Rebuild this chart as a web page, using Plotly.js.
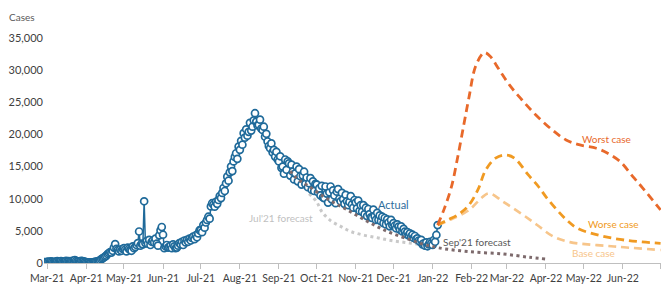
<!DOCTYPE html>
<html>
<head>
<meta charset="utf-8">
<script src="https://cdn.plot.ly/plotly-3.0.1.min.js"></script>
<style>html,body{margin:0;padding:0;background:#fff;}#chart{width:662px;height:290px;}</style>
</head>
<body>
<div id="chart"></div>
<script>
// Actual daily cases, starting 2021-02-27 (one value per day)
const actualStart = '2021-02-27';
const actualValues = [
  150,120,
  180,220,150,260,200,130,110,240,280,190,230,300,170,140,260,320,250,290,230,300,310,380,470,350,260,240,200,330,280,250,190,
  150,120,90,60,100,80,130,170,210,260,330,400,600,720,850,1000,1150,1400,1550,1700,1600,1900,2400,2950,2200,2000,1800,2100,1900,2200,
  2300,2100,1800,2400,2200,2000,1900,2600,2300,2500,2800,3100,4900,2700,3000,2900,9600,3100,3400,3000,3600,2800,3300,3500,3200,3800,3000,2700,4300,5100,5600,
  4400,2300,2600,2800,2400,2500,2700,2300,2900,2600,2300,2400,2700,3100,2900,3300,2800,3500,3200,3600,3300,3800,3500,3900,4100,3700,4300,4000,4600,5100,
  5100,4800,5900,5500,6300,6700,7200,6900,8800,9300,9100,8760,9500,9200,9800,10400,10100,10900,11670,11200,12400,13430,12800,14100,15000,14300,15800,16500,17070,16200,18100,
  17600,19000,18400,20200,19500,20800,19800,20400,21800,20600,21200,22200,23300,22000,21400,21500,22300,20900,20700,21200,19650,20100,18900,18200,17850,18600,17200,17600,16550,17300,16100,
  15800,16600,14800,15000,13900,16100,14500,15800,15500,13600,15300,14200,13000,13950,15000,12700,14600,13500,12200,13600,14200,12300,13300,11800,12400,13200,11400,12700,11200,12300,
  12200,11000,11600,10500,12000,10200,10100,11900,10800,9400,11000,11900,9900,11300,10500,9300,11100,11500,10000,9600,10900,9900,9200,10600,9600,9000,9500,10400,9100,8600,9800,
  9400,8500,9700,8100,9000,8000,9000,7600,8600,7300,8400,7600,7100,7000,8300,7300,6700,7800,6700,7400,6500,7200,6200,7000,6000,6800,6300,5700,6700,5900,
  6200,5800,5400,6000,5650,5200,5700,4900,5300,4870,4500,4800,4300,4600,4090,4400,3900,4200,3700,3840,3500,3300,3600,2900,3060,2700,3200,2600,2900,3300,3060,
  2800,3580,3300,4360,5900
];

// Jul'21 forecast
const julDates = ['2021-09-25','2021-10-01','2021-10-05','2021-10-12','2021-10-20','2021-10-28','2021-11-08','2021-11-19','2021-11-29','2021-12-10','2021-12-21','2021-12-31'];
const julValues = [10800,9500,8000,6600,5700,4900,4300,3900,3500,3200,2900,2600];

// Sep'21 forecast
const sepDates = ['2021-09-10','2021-09-15','2021-09-25','2021-10-10','2021-10-25','2021-11-10','2021-11-25','2021-12-10','2021-12-25','2022-01-06','2022-01-30','2022-02-26','2022-03-19','2022-04-01'];
const sepValues = [14300,13200,11900,9900,8300,6500,5000,3900,2900,2350,1760,1400,880,620];

// Scenarios
const worstDates = ['2022-01-05','2022-01-10','2022-01-16','2022-01-21','2022-01-26','2022-01-30','2022-02-04','2022-02-10','2022-02-12','2022-02-16','2022-02-23','2022-03-03','2022-03-13','2022-03-24','2022-04-06','2022-04-17','2022-04-28','2022-05-11','2022-05-20','2022-05-30','2022-06-09','2022-06-17','2022-07-01'];
const worstValues = [5900,8300,11870,16540,21740,25880,30540,32620,32720,32100,30030,27700,25360,23030,20700,19140,18360,17850,17070,15760,13430,11620,8250];

const worseDates = ['2022-01-05','2022-01-13','2022-01-21','2022-01-29','2022-02-06','2022-02-12','2022-02-20','2022-02-28','2022-03-07','2022-03-18','2022-03-26','2022-04-01','2022-04-10','2022-04-18','2022-04-26','2022-05-12','2022-06-02','2022-07-01'];
const worseValues = [5900,6700,7500,8800,11400,14400,16300,16800,16300,13700,11900,10300,8200,6600,5400,4360,3580,3060];

const baseDates = ['2022-01-05','2022-01-17','2022-01-30','2022-02-10','2022-02-15','2022-02-26','2022-03-12','2022-03-25','2022-04-07','2022-04-20','2022-05-04','2022-05-20','2022-06-02','2022-07-01'];
const baseValues = [5900,6900,8250,10320,10840,9540,7730,5910,4100,3250,2900,2650,2440,2020];

// Axis ticks
const monthTicks = ['2021-03-01','2021-04-01','2021-05-01','2021-06-01','2021-07-01','2021-08-01','2021-09-01','2021-10-01','2021-11-01','2021-12-01','2022-01-01','2022-02-01','2022-03-01','2022-04-01','2022-05-01','2022-06-01','2022-07-01'];
const monthLabels = ['Mar-21','Apr-21','May-21','Jun-21','Jul-21','Aug-21','Sep-21','Oct-21','Nov-21','Dec-21','Jan-22','Feb-22','Mar-22','Apr-22','May-22','Jun-22',''];
const yTicks = [0,5000,10000,15000,20000,25000,30000,35000];

// build daily dates for the actual series
const actualDates = [];
{
  const d0 = new Date(actualStart + 'T00:00:00Z');
  for (let i = 0; i < actualValues.length; i++) {
    const d = new Date(d0.getTime() + i * 86400000);
    actualDates.push(d.toISOString().slice(0, 10));
  }
}

const FONT = 'Lato, "Open Sans", sans-serif';
const C = {
  actual: '#1f6a9a', jul: '#c9c9c9', sep: '#7d6a6c',
  worst: '#e8692a', worse: '#f09a22', base: '#f7c58a'
};

const traces = [
  { x: julDates, y: julValues, mode: 'lines', line: { color: C.jul, width: 3, dash: '3px,3.5px', shape: 'spline' } },
  { x: actualDates, y: actualValues, mode: 'lines+markers',
    line: { color: C.actual, width: 1.5 },
    marker: { symbol: 'circle', size: 7, color: '#ffffff', line: { color: C.actual, width: 1.7 } } },
  { x: sepDates, y: sepValues, mode: 'lines', line: { color: C.sep, width: 3, dash: '3px,3.5px', shape: 'spline' } },
  { x: baseDates, y: baseValues, mode: 'lines', line: { color: C.base, width: 2.6, dash: '8px,5px', shape: 'spline' } },
  { x: worseDates, y: worseValues, mode: 'lines', line: { color: C.worse, width: 2.8, dash: '8px,5px', shape: 'spline' } },
  { x: worstDates, y: worstValues, mode: 'lines', line: { color: C.worst, width: 2.8, dash: '8px,5px', shape: 'spline' } }
];

const ann = (text, x, y, color, size) => ({
  text, x, y, xref: 'x', yref: 'y', showarrow: false,
  font: { family: FONT, size: size || 10, color }, xanchor: 'center', yanchor: 'middle'
});

const layout = {
  width: 662, height: 290,
  margin: { l: 44, r: 1, t: 38, b: 27, pad: 0 },
  paper_bgcolor: '#ffffff', plot_bgcolor: '#ffffff',
  showlegend: false,
  separators: '.,',
  font: { family: FONT, size: 11, color: '#404040' },
  xaxis: {
    type: 'date', range: ['2021-02-26 12:00', '2022-07-01 08:00'],
    tickmode: 'array', tickvals: monthTicks, ticktext: monthLabels, tickangle: 0,
    ticks: 'outside', ticklen: 5, tickcolor: '#bfbfbf', tickwidth: 1,
    showline: true, linecolor: '#bfbfbf', linewidth: 1,
    showgrid: false, zeroline: false,
    tickfont: { family: FONT, size: 10.5, color: '#404040' }
  },
  yaxis: {
    range: [0, 35000], tickmode: 'array', tickvals: yTicks, tickformat: ',d',
    showgrid: false, zeroline: false, showline: false, ticks: '',
    tickfont: { family: FONT, size: 11, color: '#404040' }
  },
  annotations: [
    { text: 'Cases', xref: 'paper', yref: 'paper', x: -0.036, y: 1.095, showarrow: false,
      font: { family: FONT, size: 10, color: '#595959' }, xanchor: 'center', yanchor: 'middle' },
    ann('Actual', '2021-12-01', (263 - 205) * 155.6, '#2e6c9c', 11),
    ann("Jul'21 forecast", '2021-09-03', (263 - 218) * 155.6, '#bfbfbf', 10),
    ann("Sep'21 forecast", '2022-02-05', (263 - 242.5) * 155.6, '#595959', 10),
    ann('Worst case', '2022-05-19', (263 - 139) * 155.6, C.worst, 10),
    ann('Worse case', '2022-05-25', (263 - 224) * 155.6, C.worse, 10),
    ann('Base case', '2022-05-09', (263 - 253) * 155.6, C.base, 10)
  ]
};

Plotly.newPlot('chart', traces, layout, { displayModeBar: false, staticPlot: true });
</script>
</body>
</html>
